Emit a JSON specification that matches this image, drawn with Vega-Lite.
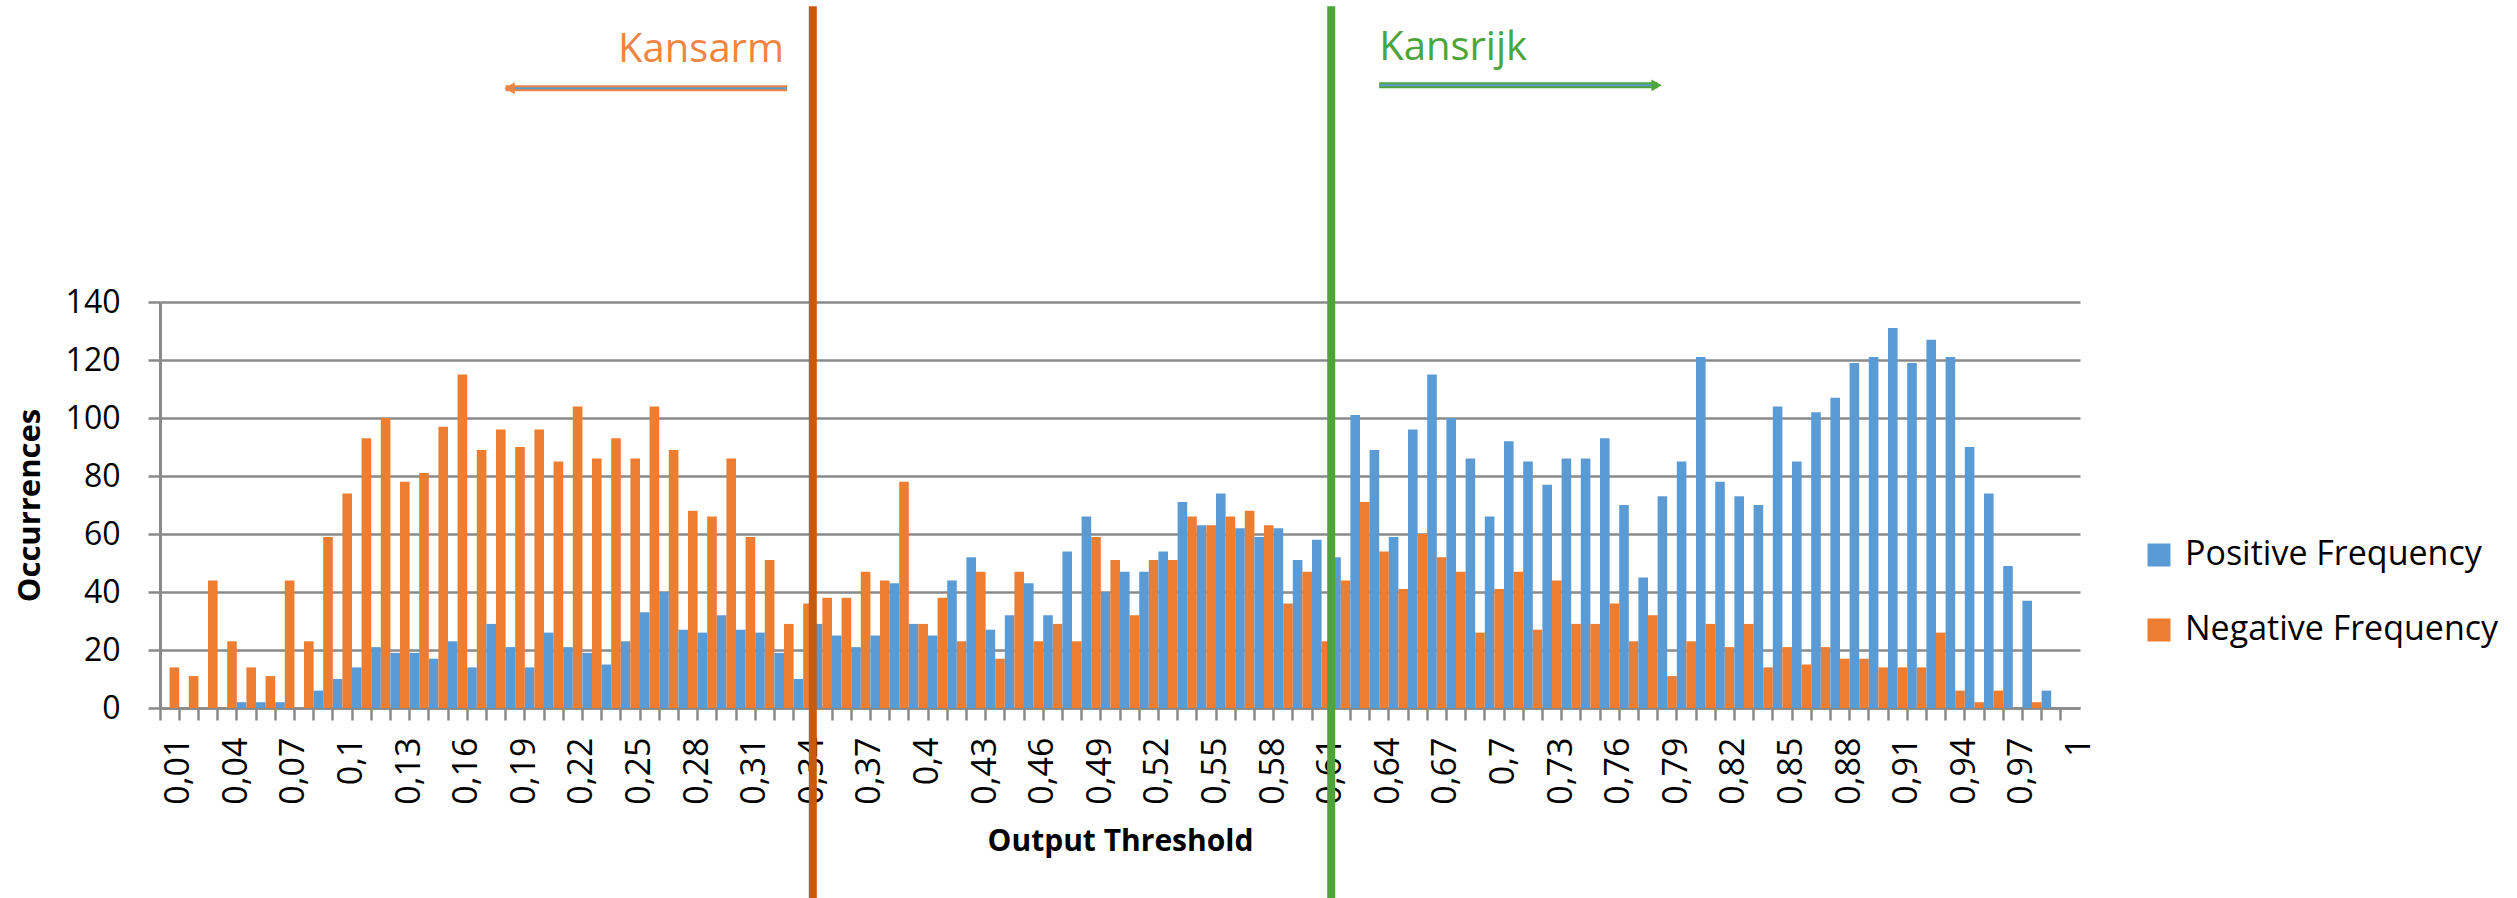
{
  "$schema": "https://vega.github.io/schema/vega-lite/v6.json",
  "width": 1920,
  "height": 406,
  "autosize": {"type": "none"},
  "padding": {"left": 160, "top": 302, "right": 437, "bottom": 190},
  "background": "white",
  "config": {"view": {"stroke": null}, "font": "Open Sans"},
  "layer": [
    {
      "data": {"values": [
        {"t":0.01,"Positive Frequency":0,"Negative Frequency":14},
        {"t":0.02,"Positive Frequency":0,"Negative Frequency":11},
        {"t":0.03,"Positive Frequency":0,"Negative Frequency":44},
        {"t":0.04,"Positive Frequency":0,"Negative Frequency":23},
        {"t":0.05,"Positive Frequency":2,"Negative Frequency":14},
        {"t":0.06,"Positive Frequency":2,"Negative Frequency":11},
        {"t":0.07,"Positive Frequency":2,"Negative Frequency":44},
        {"t":0.08,"Positive Frequency":0,"Negative Frequency":23},
        {"t":0.09,"Positive Frequency":6,"Negative Frequency":59},
        {"t":0.1,"Positive Frequency":10,"Negative Frequency":74},
        {"t":0.11,"Positive Frequency":14,"Negative Frequency":93},
        {"t":0.12,"Positive Frequency":21,"Negative Frequency":100},
        {"t":0.13,"Positive Frequency":19,"Negative Frequency":78},
        {"t":0.14,"Positive Frequency":19,"Negative Frequency":81},
        {"t":0.15,"Positive Frequency":17,"Negative Frequency":97},
        {"t":0.16,"Positive Frequency":23,"Negative Frequency":115},
        {"t":0.17,"Positive Frequency":14,"Negative Frequency":89},
        {"t":0.18,"Positive Frequency":29,"Negative Frequency":96},
        {"t":0.19,"Positive Frequency":21,"Negative Frequency":90},
        {"t":0.2,"Positive Frequency":14,"Negative Frequency":96},
        {"t":0.21,"Positive Frequency":26,"Negative Frequency":85},
        {"t":0.22,"Positive Frequency":21,"Negative Frequency":104},
        {"t":0.23,"Positive Frequency":19,"Negative Frequency":86},
        {"t":0.24,"Positive Frequency":15,"Negative Frequency":93},
        {"t":0.25,"Positive Frequency":23,"Negative Frequency":86},
        {"t":0.26,"Positive Frequency":33,"Negative Frequency":104},
        {"t":0.27,"Positive Frequency":40,"Negative Frequency":89},
        {"t":0.28,"Positive Frequency":27,"Negative Frequency":68},
        {"t":0.29,"Positive Frequency":26,"Negative Frequency":66},
        {"t":0.3,"Positive Frequency":32,"Negative Frequency":86},
        {"t":0.31,"Positive Frequency":27,"Negative Frequency":59},
        {"t":0.32,"Positive Frequency":26,"Negative Frequency":51},
        {"t":0.33,"Positive Frequency":19,"Negative Frequency":29},
        {"t":0.34,"Positive Frequency":10,"Negative Frequency":36},
        {"t":0.35,"Positive Frequency":29,"Negative Frequency":38},
        {"t":0.36,"Positive Frequency":25,"Negative Frequency":38},
        {"t":0.37,"Positive Frequency":21,"Negative Frequency":47},
        {"t":0.38,"Positive Frequency":25,"Negative Frequency":44},
        {"t":0.39,"Positive Frequency":43,"Negative Frequency":78},
        {"t":0.4,"Positive Frequency":29,"Negative Frequency":29},
        {"t":0.41,"Positive Frequency":25,"Negative Frequency":38},
        {"t":0.42,"Positive Frequency":44,"Negative Frequency":23},
        {"t":0.43,"Positive Frequency":52,"Negative Frequency":47},
        {"t":0.44,"Positive Frequency":27,"Negative Frequency":17},
        {"t":0.45,"Positive Frequency":32,"Negative Frequency":47},
        {"t":0.46,"Positive Frequency":43,"Negative Frequency":23},
        {"t":0.47,"Positive Frequency":32,"Negative Frequency":29},
        {"t":0.48,"Positive Frequency":54,"Negative Frequency":23},
        {"t":0.49,"Positive Frequency":66,"Negative Frequency":59},
        {"t":0.5,"Positive Frequency":40,"Negative Frequency":51},
        {"t":0.51,"Positive Frequency":47,"Negative Frequency":32},
        {"t":0.52,"Positive Frequency":47,"Negative Frequency":51},
        {"t":0.53,"Positive Frequency":54,"Negative Frequency":51},
        {"t":0.54,"Positive Frequency":71,"Negative Frequency":66},
        {"t":0.55,"Positive Frequency":63,"Negative Frequency":63},
        {"t":0.56,"Positive Frequency":74,"Negative Frequency":66},
        {"t":0.57,"Positive Frequency":62,"Negative Frequency":68},
        {"t":0.58,"Positive Frequency":59,"Negative Frequency":63},
        {"t":0.59,"Positive Frequency":62,"Negative Frequency":36},
        {"t":0.6,"Positive Frequency":51,"Negative Frequency":47},
        {"t":0.61,"Positive Frequency":58,"Negative Frequency":23},
        {"t":0.62,"Positive Frequency":52,"Negative Frequency":44},
        {"t":0.63,"Positive Frequency":101,"Negative Frequency":71},
        {"t":0.64,"Positive Frequency":89,"Negative Frequency":54},
        {"t":0.65,"Positive Frequency":59,"Negative Frequency":41},
        {"t":0.66,"Positive Frequency":96,"Negative Frequency":60},
        {"t":0.67,"Positive Frequency":115,"Negative Frequency":52},
        {"t":0.68,"Positive Frequency":100,"Negative Frequency":47},
        {"t":0.69,"Positive Frequency":86,"Negative Frequency":26},
        {"t":0.7,"Positive Frequency":66,"Negative Frequency":41},
        {"t":0.71,"Positive Frequency":92,"Negative Frequency":47},
        {"t":0.72,"Positive Frequency":85,"Negative Frequency":27},
        {"t":0.73,"Positive Frequency":77,"Negative Frequency":44},
        {"t":0.74,"Positive Frequency":86,"Negative Frequency":29},
        {"t":0.75,"Positive Frequency":86,"Negative Frequency":29},
        {"t":0.76,"Positive Frequency":93,"Negative Frequency":36},
        {"t":0.77,"Positive Frequency":70,"Negative Frequency":23},
        {"t":0.78,"Positive Frequency":45,"Negative Frequency":32},
        {"t":0.79,"Positive Frequency":73,"Negative Frequency":11},
        {"t":0.8,"Positive Frequency":85,"Negative Frequency":23},
        {"t":0.81,"Positive Frequency":121,"Negative Frequency":29},
        {"t":0.82,"Positive Frequency":78,"Negative Frequency":21},
        {"t":0.83,"Positive Frequency":73,"Negative Frequency":29},
        {"t":0.84,"Positive Frequency":70,"Negative Frequency":14},
        {"t":0.85,"Positive Frequency":104,"Negative Frequency":21},
        {"t":0.86,"Positive Frequency":85,"Negative Frequency":15},
        {"t":0.87,"Positive Frequency":102,"Negative Frequency":21},
        {"t":0.88,"Positive Frequency":107,"Negative Frequency":17},
        {"t":0.89,"Positive Frequency":119,"Negative Frequency":17},
        {"t":0.9,"Positive Frequency":121,"Negative Frequency":14},
        {"t":0.91,"Positive Frequency":131,"Negative Frequency":14},
        {"t":0.92,"Positive Frequency":119,"Negative Frequency":14},
        {"t":0.93,"Positive Frequency":127,"Negative Frequency":26},
        {"t":0.94,"Positive Frequency":121,"Negative Frequency":6},
        {"t":0.95,"Positive Frequency":90,"Negative Frequency":2},
        {"t":0.96,"Positive Frequency":74,"Negative Frequency":6},
        {"t":0.97,"Positive Frequency":49,"Negative Frequency":0},
        {"t":0.98,"Positive Frequency":37,"Negative Frequency":2},
        {"t":0.99,"Positive Frequency":6,"Negative Frequency":0},
        {"t":1,"Positive Frequency":0,"Negative Frequency":0}
      ]},
      "transform": [{"fold": ["Positive Frequency", "Negative Frequency"], "as": ["series", "count"]}],
      "mark": {"type": "bar"},
      "encoding": {
        "x": {
          "field": "t", "type": "ordinal",
          "scale": {"paddingInner": 0, "paddingOuter": 0},
          "axis": {
            "title": "Output Threshold",
            "titleFontSize": 30, "titleFontWeight": "bold", "titleColor": "black",
            "titleBaseline": "top", "titleY": 118,
            "labelAngle": -90, "labelFontSize": 34, "labelColor": "black",
            "labelPadding": 17, "labelOffset": 9.6,
            "bandPosition": 0,
            "tickSize": 12, "tickColor": "#8a8a8a", "tickWidth": 2.5,
            "domainColor": "#8a8a8a", "domainWidth": 2.5,
            "labelExpr": "round(datum.value*100) % 3 == 1 ? replace(format(datum.value, '.2~f'), '.', ',') : ''",
            "labelOverlap": false
          }
        },
        "xOffset": {
          "field": "series", "type": "nominal",
          "sort": ["Positive Frequency", "Negative Frequency"],
          "scale": {"paddingInner": 0, "paddingOuter": 0}
        },
        "y": {
          "field": "count", "type": "quantitative",
          "scale": {"domain": [0, 140], "nice": false},
          "axis": {
            "title": "Occurrences",
            "titleFontSize": 31, "titleFontWeight": "bold", "titleColor": "black",
            "titlePadding": 19,
            "values": [0, 20, 40, 60, 80, 100, 120, 140],
            "labelFontSize": 32, "labelColor": "black", "labelPadding": 28,
            "tickSize": 12, "tickColor": "#8a8a8a", "tickWidth": 2.5,
            "domainColor": "#8a8a8a", "domainWidth": 3,
            "grid": true, "gridColor": "#8a8a8a", "gridWidth": 2.5
          }
        },
        "color": {
          "field": "series", "type": "nominal",
          "scale": {"domain": ["Positive Frequency", "Negative Frequency"], "range": ["#5B9BD5", "#ED7D31"]},
          "legend": {
            "title": null, "orient": "none", "legendX": 1982, "legendY": 236,
            "symbolType": "square", "symbolSize": 529, "symbolStrokeWidth": 0, "symbolOpacity": 1,
            "labelFontSize": 34, "labelColor": "black", "labelOffset": 9, "rowPadding": 41,
            "labelLimit": 0
          }
        }
      }
    },
    {
      "data": {"values": [{"t": 0.35}]},
      "mark": {"type": "rule", "color": "#C55A11", "strokeWidth": 8},
      "encoding": {
        "x": {"field": "t", "type": "ordinal", "bandPosition": 0},
        "y": {"datum": 242},
        "y2": {"datum": -70}
      }
    },
    {
      "data": {"values": [{"t": 0.62}]},
      "mark": {"type": "rule", "color": "#4EA43A", "strokeWidth": 8},
      "encoding": {
        "x": {"field": "t", "type": "ordinal", "bandPosition": 0},
        "y": {"datum": 242},
        "y2": {"datum": -70}
      }
    },
    {
      "data": {"values": [{"t": 0.33, "label": "Kansarm"}]},
      "mark": {"type": "text", "align": "right", "baseline": "alphabetic", "fontSize": 40, "color": "#EE8642"},
      "encoding": {
        "x": {"field": "t", "type": "ordinal"},
        "y": {"datum": 222.6},
        "text": {"field": "label"}
      }
    },
    {
      "data": {"values": [{"t": 0.64, "label": "Kansrijk"}]},
      "mark": {"type": "text", "align": "left", "baseline": "alphabetic", "fontSize": 40, "color": "#4EA43A"},
      "encoding": {
        "x": {"field": "t", "type": "ordinal"},
        "y": {"datum": 223.6},
        "text": {"field": "label"}
      }
    },
    {
      "data": {"values": [{"from": 0.19, "to": 0.33}]},
      "mark": {"type": "rule", "color": "#EE8642", "strokeWidth": 6},
      "encoding": {
        "x": {"field": "from", "type": "ordinal", "bandPosition": 0},
        "x2": {"field": "to", "bandPosition": 0.66},
        "y": {"datum": 213.7}
      }
    },
    {
      "data": {"values": [{"from": 0.19, "to": 0.33}]},
      "mark": {"type": "rule", "color": "#5B9BD5", "strokeWidth": 2},
      "encoding": {
        "x": {"field": "from", "type": "ordinal", "bandPosition": 0},
        "x2": {"field": "to", "bandPosition": 0.66},
        "y": {"datum": 213.7}
      }
    },
    {
      "data": {"values": [{"from": 0.19}]},
      "mark": {"type": "point", "shape": "triangle-left", "filled": true, "opacity": 1, "size": 140, "color": "#EE8642", "xOffset": 4},
      "encoding": {
        "x": {"field": "from", "type": "ordinal", "bandPosition": 0},
        "y": {"datum": 213.7}
      }
    },
    {
      "data": {"values": [{"from": 0.64, "to": 0.79}]},
      "mark": {"type": "rule", "color": "#4EA43A", "strokeWidth": 6},
      "encoding": {
        "x": {"field": "from", "type": "ordinal"},
        "x2": {"field": "to", "bandPosition": 0},
        "y": {"datum": 214.7}
      }
    },
    {
      "data": {"values": [{"from": 0.64, "to": 0.79}]},
      "mark": {"type": "rule", "color": "#5B9BD5", "strokeWidth": 2},
      "encoding": {
        "x": {"field": "from", "type": "ordinal"},
        "x2": {"field": "to", "bandPosition": 0},
        "y": {"datum": 214.7}
      }
    },
    {
      "data": {"values": [{"to": 0.79}]},
      "mark": {"type": "point", "shape": "triangle-right", "filled": true, "opacity": 1, "size": 140, "color": "#4EA43A", "xOffset": -1},
      "encoding": {
        "x": {"field": "to", "type": "ordinal", "bandPosition": 0},
        "y": {"datum": 214.7}
      }
    }
  ]
}
